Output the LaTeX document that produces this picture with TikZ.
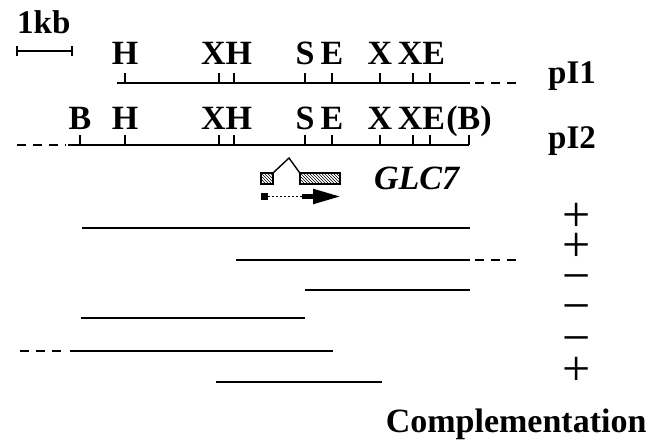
\documentclass[tikz,border=0pt]{standalone}
\usepackage{fontspec}
\setmainfont{Liberation Serif}
\usetikzlibrary{positioning, arrows.meta, patterns}

\begin{document}
\begin{tikzpicture}[
    x=1pt, y=-1pt,
    maplin/.style={line width=2pt},
    fraglin/.style={line width=2.4pt},
    extlin/.style={line width=2pt, dash pattern=on 9pt off 7pt},
    site/.style={line width=1.4pt},
    enz/.style={font=\fontsize{34}{34}\selectfont\bfseries, inner sep=0pt,
        text depth=0pt},
    plasmid/.style={font=\fontsize{33}{33}\selectfont\bfseries, inner sep=0pt,
        anchor=base west},
    exon/.style={draw, line width=1.2pt, pattern=north west lines,
        minimum height=11pt, inner sep=0pt},
    sign/.style={font=\fontsize{50}{50}\selectfont, inner sep=0pt,
        text height=0.5em, text depth=0pt}
]
\useasboundingbox (0,0) rectangle (663,440);

% scale bar
\node[enz, font=\fontsize{33}{33}\selectfont\bfseries, anchor=base west] (kb) at (17,33) {1kb};
\draw[line width=2pt] (17,51) -- (72,51);
\draw[line width=1.4pt] (17,46) -- (17,56) (72,46) -- (72,56);

% pI1
\draw[maplin] (117,83) -- (470,83);
\draw[extlin] (475,83) -- (520,83);
\foreach \x/\n in {125/h, 219/xa, 234/hb, 305/s, 332/e, 380/xc, 413/xd, 430/ed}
    \draw[site] (\x,83) -- ++(0,-10) coordinate (a\n);
\path (axa) -- (ahb) coordinate[midway] (axh);
\path (axd) -- (aed) coordinate[midway] (axe);
\node[enz, above=8pt of ah] (ahl) {H};
\node[enz, above=8pt of axh] (axhl) {XH};
\node[enz, above=8pt of as] (asl) {S};
\node[enz, above=8pt of ae] (ael) {E};
\node[enz, above=8pt of axc] (axcl) {X};
\node[enz, above=8pt of axe] (axel) {XE};
\node[plasmid] (pi1) at (548,83) {pI1};

% pI2
\draw[extlin] (17,145) -- (66,145);
\draw[maplin] (68,145) -- (469,145);
\foreach \x/\n in {80/b, 125/h, 219/xa, 234/hb, 305/s, 332/e, 380/xc, 413/xd, 430/ed, 469/bb}
    \draw[site] (\x,145) -- ++(0,-10) coordinate (b\n);
\path (bxa) -- (bhb) coordinate[midway] (bxh);
\path (bxd) -- (bed) coordinate[midway] (bxe);
\node[enz, above=5pt of bb] (bbl) {B};
\node[enz, above=5pt of bh] (bhl) {H};
\node[enz, above=5pt of bxh] (bxhl) {XH};
\node[enz, above=5pt of bs] (bsl) {S};
\node[enz, above=5pt of be] (bel) {E};
\node[enz, above=5pt of bxc] (bxcl) {X};
\node[enz, above=5pt of bxe] (bxel) {XE};
\node[enz, above=5pt of bbb] (bbbl) {(B)};
\node[plasmid] (pi2) at (548,148) {pI2};

% GLC7
\node[exon, minimum width=12pt] (ex1) at (267,178.5) {};
\node[exon, minimum width=40pt] (ex2) at (320,178.5) {};
\draw[line width=1.4pt] (ex1.north east) -- (289,158) -- (ex2.north west);
\node[fill, minimum size=7pt, inner sep=0pt] (tss) at (264,196.5) {};
\draw[line width=1.3pt, dash pattern=on 2.5pt off 1.5pt] (tss.east) -- (302,196.5) coordinate (dots);
\draw[line width=5pt, -{Triangle[length=28pt, width=14pt]}] (dots) -- (341,196.5);
\node[font=\fontsize{34}{34}\selectfont\bfseries\itshape, anchor=west, right=30pt of ex2] (glc) {GLC7};

% subclones
\draw[fraglin] (82,228) -- (470,228);
\draw[fraglin] (236,260) -- (470,260);
\draw[extlin] (475,260) -- (520,260);
\draw[fraglin] (305,290) -- (470,290);
\draw[fraglin] (81,318) -- (305,318);
\draw[extlin] (20,351) -- (66,351);
\draw[fraglin] (70,351) -- (333,351);
\draw[fraglin] (216,382) -- (382,382);

\node[sign] (c1) at (577,229) {+};
\node[sign] (c2) at (577,259) {+};
\node[sign] (c3) at (577,290) {−};
\node[sign] (c4) at (577,320) {−};
\node[sign] (c5) at (577,352) {−};
\node[sign] (c6) at (577,383) {+};
\node[font=\fontsize{34}{34}\selectfont\bfseries, anchor=base east] (compl) at (650,432) {Complementation};
\end{tikzpicture}
\end{document}
